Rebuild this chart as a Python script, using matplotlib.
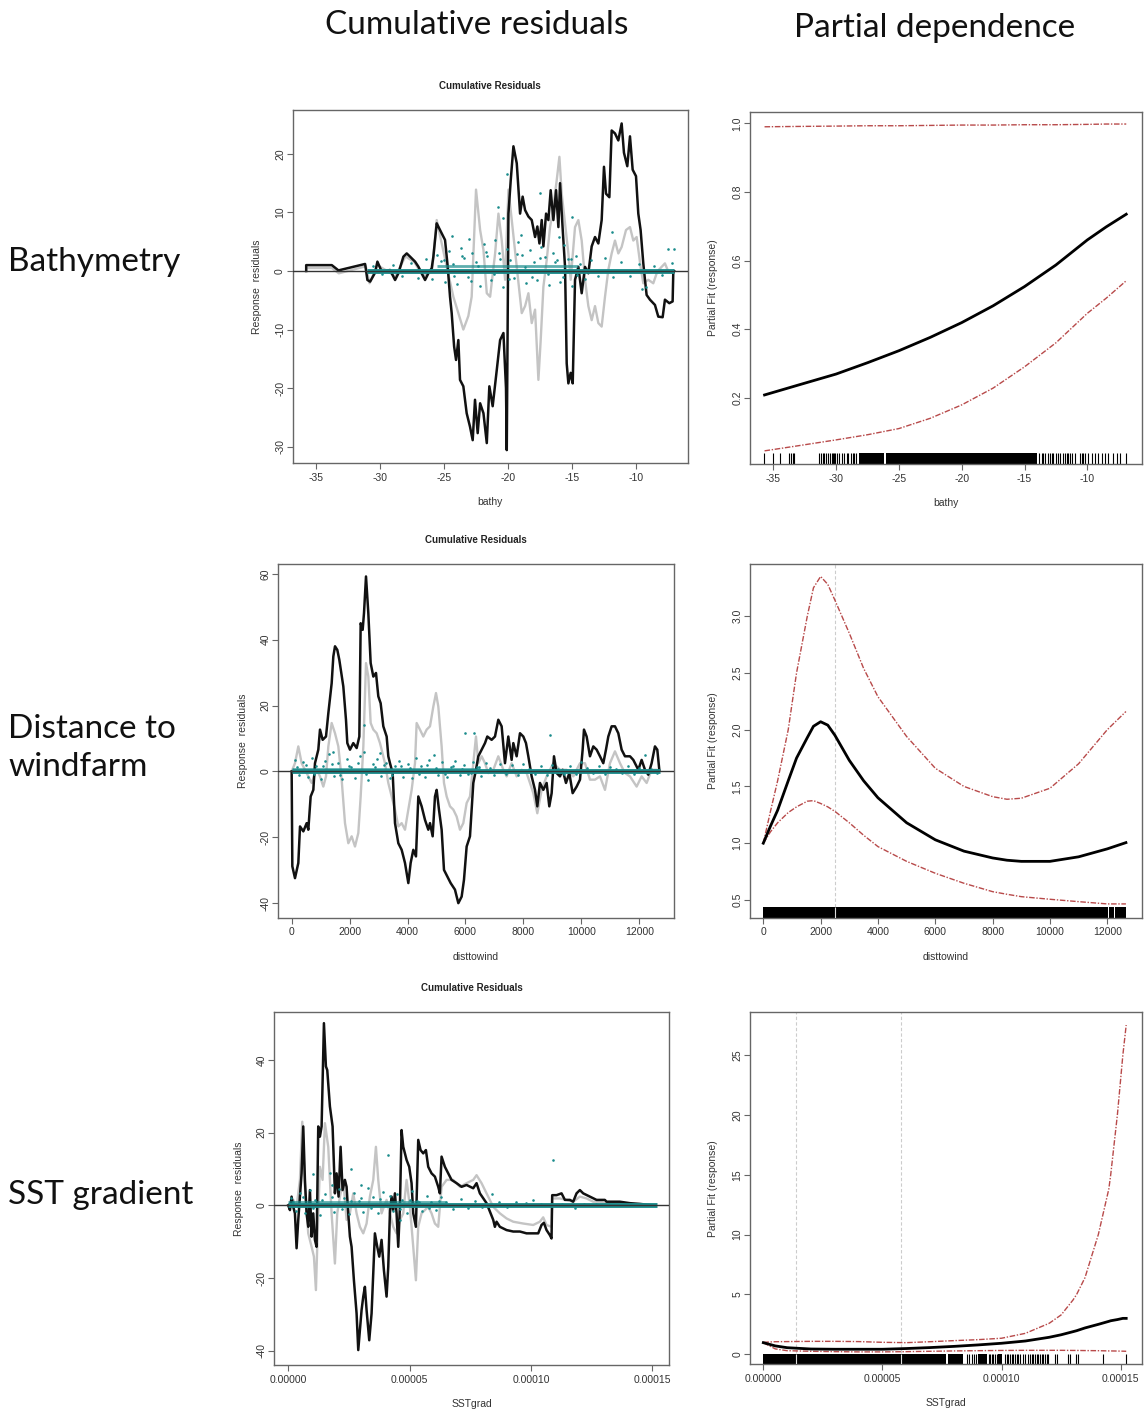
import numpy as np
import matplotlib
matplotlib.use('Agg')
import matplotlib.pyplot as plt

# ---- headers / labels
col_titles = ['Cumulative residuals', 'Partial dependence']
row_titles = ['Bathymetry', 'Distance to\nwindfarm', 'SST gradient']
x_names = ['bathy', 'disttowind', 'SSTgrad']

# ---- row 1: bathy
bathy_black_x = [-35.75, -35.75, -33.75, -33.23, -31.15, -30.97, -30.76, -30.37, -30.19, -29.85, -29.2, -28.81,
                 -28.55, -28.16, -27.9, -27.64, -27.25, -26.99, -26.73, -26.47, -26.21, -25.95, -25.82, -25.56,
                 -25.43, -25.17, -24.91, -24.7, -24.52, -24.39, -24.2, -24.05, -23.87, -23.74, -23.48, -23.22,
                 -22.96, -22.75, -22.57, -22.36, -22.17, -21.91, -21.65, -21.45, -21.19, -20.87, -20.61, -20.35,
                 -20.15, -20.09, -19.96, -19.78, -19.57, -19.31, -19.05, -18.85, -18.66, -18.4, -18.14, -17.88,
                 -17.7, -17.54, -17.36, -17.23, -17.02, -16.84, -16.66, -16.45, -16.24, -16.06, -15.93, -15.72,
                 -15.54, -15.41, -15.28, -15.1, -14.94, -14.76, -14.5, -14.24, -13.98, -13.72, -13.46, -13.2,
                 -12.94, -12.68, -12.5, -12.34, -12.08, -11.9, -11.64, -11.38, -11.12, -10.94, -10.68, -10.47,
                 -10.26, -10.0, -9.82, -9.64, -9.43, -9.3, -9.17, -8.91, -8.52, -8.26, -7.92, -7.74, -7.4,
                 -7.14, -7.09, -7.03]
bathy_black_y = [0, 1.0, 1.0, 0.1, 1.2, -1.54, -1.82, -0.28, 1.6, -0.11, 0.17, -1.54,
                 -0.4, 2.45, 3.0, 2.45, 1.6, 0.74, -0.4, -1.54, -0.4, 0.46, 2.45, 8.14,
                 7.57, 6.43, 5.3, 0.74, -4.4, -7.2, -12.9, -15.2, -11.8, -18.6, -19.7, -24.3,
                 -26.6, -28.9, -22.0, -27.7, -22.6, -24.3, -29.4, -19.7, -23.1, -16.9, -11.8, -10.6,
                 -20.0, -30.6, 9.8, 15.5, 21.3, 18.4, 9.8, 12.7, 10.4, 9.3, 8.7, 5.8,
                 7.6, 4.7, 8.7, 4.2, 9.8, 8.7, 13.8, 8.7, 13.8, 7.5, 15.0, 7.0,
                 0.7, -15.8, -19.2, -17.4, -19.2, -1.5, 0.7, -3.8, 0.7, -0.4, 4.2, 5.8,
                 4.7, 8.7, 17.8, 13.2, 12.6, 24.0, 23.5, 22.3, 25.2, 20.2, 17.9, 23.0,
                 17.3, 16.2, 9.8, 7.0, 1.3, -1.5, -4.1, -4.9, -5.8, -7.8, -7.9, -4.9, -5.5,
                 -5.2, -0.4, 0]
bathy_gray_x = [-35.75, -35.75, -33.75, -33.2, -31.1, -30.8, -30.2, -29.2, -28.8, -28.0, -27.3, -26.6, -25.9,
                -25.56, -24.78, -24.26, -23.87, -23.48, -23.09, -22.83, -22.49, -22.17, -21.91, -21.65, -21.39,
                -21.0, -20.74, -20.48, -20.22, -19.96, -19.7, -19.31, -18.92, -18.66, -18.4, -18.14, -17.88,
                -17.62, -17.44, -17.23, -16.97, -16.71, -16.45, -16.19, -15.98, -15.8, -15.54, -15.28, -15.1,
                -14.76, -14.5, -14.24, -13.98, -13.72, -13.46, -13.2, -12.94, -12.68, -12.42, -12.16, -11.9,
                -11.64, -11.38, -11.12, -10.78, -10.47, -10.21, -9.95, -9.64, -9.43, -9.04, -8.65, -8.34,
                -8.0, -7.74, -7.48, -7.22]
bathy_gray_y = [0, 0.5, 0.5, -0.4, 0.8, -2.1, 1.0, -0.3, -1.0, 2.5, 1.5, -1.0, 0.5,
                8.7, 0.74, -4.4, -7.2, -10.0, -7.7, -4.4, 13.9, 7.0, 3.6, -3.8, -4.4,
                3.0, 9.8, 5.2, -1.5, 13.9, 8.7, 0.7, -7.2, -6.0, -3.8, -8.9, -6.6,
                -18.6, -11.8, -2.7, 1.9, 7.5, 11.0, 15.5, 19.5, 13.2, 8.1, 3.0, -1.5,
                7.5, 8.7, 5.2, -1.5, -6.0, -8.4, -6.0, -8.9, -9.5, -4.4, 0.2, 3.0,
                5.2, 3.0, 4.1, 7.0, 7.5, 5.2, 5.8, 0.7, -2.1, -1.5, -2.1, -0.1,
                0.7, 1.3, -0.1, 0]
bathy_res_x = [-30.5, -29.8, -29.0, -28.3, -27.6, -27.0, -26.4, -25.9, -25.5, -25.2, -24.9, -24.6, -24.3, -24.0,
               -23.7, -23.4, -23.1, -22.8, -22.5, -22.2, -21.9, -21.6, -21.3, -21.0, -20.7, -20.4, -20.1, -19.8,
               -19.5, -19.2, -18.9, -18.6, -18.3, -18.0, -17.7, -17.4, -17.1, -16.8, -16.5, -16.2, -15.9, -15.6,
               -15.3, -15.0, -14.7, -14.4, -14.0, -13.5, -13.0, -12.4, -11.8, -11.2, -10.5, -9.8, -9.2, -8.6,
               -8.0, -7.5, -7.2, -20.1, -20.8, -20.4, -15.0, -24.4, -17.5, -11.9, -7.0, -9.5, -23.0, -19.0, -16.0,
               -25.0, -24.2, -23.6, -22.9, -22.3, -21.7, -21.1, -20.6, -19.9, -19.3, -18.7, -18.1, -17.5, -16.9,
               -16.3, -15.7, -15.1, -14.6]
bathy_res_y = [0.8, -0.6, 1.1, -0.9, 1.4, -1.2, 2.1, -1.4, 2.8, 1.7, -1.8, 3.4, 1.2, -2.2,
               4.0, 2.2, -1.0, 3.0, 1.6, -2.6, 4.6, 2.5, -1.6, 5.3, 3.1, -2.8, 3.8, 1.9,
               -1.2, 5.0, 2.7, -2.0, 3.5, 1.5, -1.5, 4.1, 2.4, -2.4, 3.0, 1.8, -1.9, 4.4,
               2.0, -2.6, 2.6, 1.2, -1.3, 1.8, -0.9, 2.2, -1.1, 1.5, -0.8, 1.2, -2.7, 0.9,
               -0.7, 3.8, 1.3, 16.6, 10.9, 9.0, 9.3, 6.0, 13.3, 6.6, 3.8, -3.0, 5.5, 6.2, 5.8,
               1.9, -0.8, 2.6, -1.7, 0.9, 3.3, -0.6, 2.0, -1.3, 2.9, 0.7, -1.0, 2.3, -0.5,
               1.6, -1.1, 2.1, -0.7]
bathy_band = [-31.0, -7.0]
bathy_band2 = [-25.5, -14.5]

bathy_pd_x = [-35.7, -33.0, -30.0, -27.5, -25.0, -22.5, -20.0, -17.5, -15.0, -12.5, -10.0, -8.5, -6.9]
bathy_pd_fit = [0.208, 0.237, 0.269, 0.302, 0.337, 0.376, 0.419, 0.468, 0.524, 0.587, 0.660, 0.698, 0.735]
bathy_pd_lo = [0.045, 0.06, 0.077, 0.092, 0.11, 0.14, 0.179, 0.228, 0.29, 0.36, 0.446, 0.49, 0.541]
bathy_pd_hi = [0.990, 0.991, 0.992, 0.993, 0.993, 0.994, 0.995, 0.995, 0.996, 0.996, 0.997, 0.998, 0.998]
bathy_rug_blocks = [(-28.15, -26.15), (-26.05, -13.98)]
bathy_rug = [-35.72, -35.0, -34.47, -33.75, -33.62, -33.46, -33.35, -31.34, -31.23, -31.07, -30.94, -30.81,
             -30.67, -30.49, -30.36, -30.28, -30.2, -30.12, -29.96, -29.75, -29.56, -29.37, -29.16, -29.03,
             -28.84, -28.68, -28.58, -28.42, -13.82, -13.64, -13.5, -13.34, -13.16, -12.97, -12.84, -12.71,
             -12.5, -12.31, -12.18, -11.96, -11.78, -11.65, -11.51, -11.38, -11.25, -10.98, -10.58, -10.45,
             -10.32, -10.19, -9.92, -9.66, -9.39, -9.12, -8.86, -8.59, -8.33, -7.93, -7.66, -7.4, -6.92]
bathy_vlines = []

# ---- row 2: distance to windfarm
dist_black_x = [0, 23, 115, 230, 288, 403, 518, 575, 656, 748, 805, 920, 978, 1070, 1185, 1266, 1381, 1438,
                1496, 1576, 1645, 1783, 1875, 1921, 2013, 2128, 2244, 2336, 2382, 2451, 2497, 2566, 2646,
                2727, 2819, 2911, 2991, 3072, 3164, 3279, 3336, 3394, 3486, 3567, 3682, 3797, 3912, 4027,
                4107, 4199, 4291, 4372, 4487, 4602, 4717, 4775, 4867, 4947, 5005, 5085, 5177, 5258, 5373,
                5488, 5637, 5753, 5868, 5948, 6040, 6155, 6270, 6362, 6443, 6558, 6673, 6753, 6903, 7018,
                7133, 7248, 7363, 7478, 7593, 7651, 7766, 7881, 7996, 8088, 8169, 8284, 8399, 8479, 8571,
                8686, 8801, 8893, 8974, 9055, 9146, 9262, 9354, 9469, 9584, 9699, 9837, 9952, 10044, 10090,
                10182, 10297, 10412, 10527, 10642, 10757, 10849, 10930, 11045, 11160, 11275, 11390, 11505,
                11678, 11793, 11965, 12080, 12195, 12310, 12425, 12540, 12621, 12690]
dist_black_y = [0, -28.8, -32.4, -27.8, -16.7, -18.2, -15.7, -17.7, -7.6, -5.6, 2.5, 6.6, 12.7, 9.6, 10.6, 17.7,
                26.8, 34.9, 38.0, 36.9, 33.9, 25.8, 15.7, 8.6, 6.6, 8.6, 7.1, 10.6, 45.0, 43.0, 48.1, 59.2,
                48.1, 32.9, 28.8, 29.9, 22.8, 20.7, 13.7, 10.6, 4.6, 2.5, -0.5, -15.7, -21.8, -23.8, -27.8,
                -33.9, -27.8, -23.8, -25.8, -7.6, -10.6, -14.7, -17.7, -15.7, -19.7, -7.6, -5.6, -11.6,
                -17.7, -29.9, -31.9, -33.9, -35.9, -40.0, -38.0, -32.9, -22.8, -19.7, -3.5, 0.5, 4.6, 6.6,
                8.6, 10.6, 9.6, 10.6, 15.7, 13.7, 2.5, 10.6, 3.5, 8.6, 4.6, 11.6, 10.6, 8.6, 4.6, -1.5,
                -5.6, -10.6, -3.5, -5.6, -3.5, -10.6, -6.6, 4.6, -0.5, -1.5, 0.5, -3.5, -0.5, -6.6, -4.6,
                -2.5, 6.6, 12.7, 10.6, 4.6, 7.6, 6.6, 4.6, 2.5, 6.6, 10.6, 13.7, 13.7, 11.6, 6.6, 4.6,
                4.6, 3.5, 0.5, 3.5, 0.5, -1.0, 2.5, 7.6, 6.6, 0.5]
dist_gray_x = [0, 115, 230, 345, 460, 575, 690, 863, 978, 1093, 1185, 1266, 1381, 1496, 1611, 1726, 1841,
               1956, 2071, 2186, 2301, 2382, 2474, 2566, 2646, 2727, 2819, 2934, 3049, 3221, 3336, 3452,
               3567, 3682, 3797, 3912, 4027, 4142, 4257, 4314, 4429, 4544, 4660, 4775, 4890, 4982, 5062,
               5177, 5258, 5350, 5465, 5580, 5695, 5810, 5925, 6040, 6155, 6270, 6362, 6443, 6558, 6673,
               6788, 6961, 7133, 7306, 7421, 7593, 7766, 7938, 8111, 8226, 8341, 8479, 8629, 8801, 9031,
               9262, 9492, 9722, 9952, 10124, 10297, 10470, 10642, 10815, 10987, 11160, 11333, 11505,
               11678, 11908, 12080, 12253, 12425, 12598, 12690]
dist_gray_y = [0, 2.5, 7.6, 2.5, 0.5, -1.5, -3.5, 0.5, -1.5, -4.6, -1.5, 7.6, 14.7, 11.6, 7.6, -2.5, -15.7,
               -21.8, -19.7, -22.8, -18.7, -7.6, 7.6, 32.9, 28.8, 14.7, 12.7, 11.6, 8.6, 2.5, -3.5, -7.6,
               -11.6, -16.7, -15.7, -17.7, -11.6, -5.6, 2.5, 14.7, 12.7, 10.6, 12.7, 13.7, 19.7, 23.8, 19.7,
               7.6, -3.5, -7.6, -10.6, -11.6, -13.7, -17.7, -15.7, -9.6, -7.6, 2.5, 10.6, 2.5, 4.6, 2.5,
               -0.5, 0.5, 4.6, 0.5, -1.5, 2.5, -1.5, 0.5, -0.5, -3.5, -6.6, -12.7, -5.6, -1.5, 2.5,
               0.5, 0.5, -1.5, 2.5, 2.5, -2.5, -2.5, -1.5, -5.6, 2.5, 6.1, 2.5, -0.5,
               -1.5, -4.6, -1.5, -3.5, 0.5, 0.5, 0]
dist_res_x = [100, 250, 400, 550, 700, 850, 1000, 1150, 1300, 1450, 1600, 1750, 1900, 2050, 2200, 2350, 2500,
              2650, 2800, 2950, 3100, 3250, 3400, 3550, 3700, 3850, 4000, 4150, 4300, 4450, 4600, 4750, 4900,
              5050, 5200, 5350, 5500, 5650, 5800, 5950, 6100, 6250, 6400, 6550, 6700, 6850, 7000, 7200, 7400,
              7600, 7800, 8000, 8200, 8400, 8600, 8800, 9000, 9200, 9400, 9600, 9800, 10000, 10200, 10400,
              10600, 10800, 11000, 11200, 11400, 11600, 11800, 12000, 12200, 12400, 12600,
              2480, 5980, 8930, 3050, 6300, 1420,
              180, 480, 780, 1080, 1380, 1680, 1980, 2280, 2580, 2880, 3180, 3480, 3780, 4080, 4380, 4680,
              4980, 5280, 5580, 5880, 6180, 6480]
dist_res_y = [3.5, -1.2, 2.8, -1.8, 4.0, 1.6, -2.2, 3.2, 5.2, -1.5, 2.5, -2.4, 3.8, 1.2, -2.0, 4.6, 5.8,
              -2.6, 2.2, 3.9, -1.4, 2.7, -2.0, 1.8, 3.2, -1.6, 2.4, -2.1, 4.1, 1.7, -1.8, 3.6, 5.0,
              -1.1, 2.9, -1.7, 1.4, 3.3, -1.2, 2.0, -0.9, 3.0, 1.2, -1.4, 2.6, 0.9, -1.0, 2.2, -0.8,
              1.9, -1.1, 2.4, 0.8, -0.9, 1.5, -1.2, 2.0, 0.6, -0.8, 1.7, -0.7, 2.8, 0.9, -0.6,
              1.8, -0.9, 1.2, 0.7, -0.6, 1.5, -0.8, 1.0, 5.0, 0.8, -0.5,
              14.0, 11.6, 11.1, 5.5, 11.8, 6.0,
              1.2, 2.0, -0.9, 1.5, 2.2, -1.0, 1.7, 2.5, -0.8, 1.3, 2.1, -1.2, 1.6, 0.9, -0.7, 2.0,
              1.1, -0.9, 1.8, 0.8, -0.6, 1.4]
dist_band = [0, 12700]
dist_band2 = [0, 6500]

dist_pd_x = [0, 250, 500, 870, 1160, 1535, 1750, 2000, 2250, 2500, 3000, 3500, 4000, 5000, 6000, 7000, 8000,
             8500, 9000, 10000, 11000, 12000, 12650]
dist_pd_fit = [1.0, 1.15, 1.29, 1.55, 1.75, 1.93, 2.03, 2.07, 2.04, 1.95, 1.73, 1.55, 1.40, 1.18, 1.03, 0.93,
               0.87, 0.85, 0.84, 0.84, 0.88, 0.95, 1.005]
dist_pd_lo = [1.0, 1.10, 1.18, 1.27, 1.32, 1.37, 1.375, 1.35, 1.32, 1.28, 1.18, 1.07, 0.97, 0.84, 0.735,
              0.647, 0.573, 0.55, 0.529, 0.506, 0.485, 0.465, 0.465]
dist_pd_hi = [1.0, 1.28, 1.55, 2.0, 2.5, 3.0, 3.25, 3.35, 3.28, 3.14, 2.85, 2.54, 2.29, 1.94, 1.66, 1.50,
              1.41, 1.387, 1.396, 1.484, 1.70, 2.0, 2.16]
dist_rug_blocks = [(0, 12030), (12070, 12230), (12260, 12650)]
dist_rug = []
dist_vlines = [2500]

# ---- row 3: SST gradient (x in units of 1e-5)
sst_black_x = np.array([0, 0.069, 0.137, 0.206, 0.275, 0.343, 0.412, 0.481, 0.549, 0.618, 0.687, 0.755, 0.824,
                        0.893, 0.962, 1.030, 1.099, 1.168, 1.236, 1.305, 1.374, 1.470, 1.552, 1.607, 1.717, 1.827,
                        1.923, 1.992, 2.074, 2.157, 2.239, 2.335, 2.404, 2.472, 2.541, 2.610, 2.706, 2.816, 2.885,
                        2.953, 3.022, 3.091, 3.159, 3.228, 3.338, 3.434, 3.503, 3.571, 3.668, 3.750, 3.846, 3.942,
                        4.052, 4.121, 4.189, 4.258, 4.327, 4.396, 4.464, 4.533, 4.602, 4.670, 4.739, 4.808, 4.876,
                        4.986, 5.082, 5.151, 5.261, 5.316, 5.357, 5.453, 5.563, 5.673, 5.769, 5.906, 6.044, 6.181,
                        6.250, 6.319, 6.456, 6.593, 6.731, 6.937, 7.143, 7.349, 7.623, 7.761, 7.898, 8.173, 8.448,
                        8.516, 8.585, 8.722, 8.997, 9.272, 9.547, 9.821, 10.096, 10.302, 10.439, 10.536, 10.645,
                        10.783, 10.851, 10.879, 11.057, 11.264, 11.401, 11.607, 11.744, 11.882, 12.019, 12.156,
                        12.431, 12.706, 13.049, 13.118, 13.393, 13.668, 14.080, 14.492, 15.041]) * 1e-5
sst_black_y = [0, -1.3, 2.4, -0.4, -2.2, -11.8, -4.0, 2.4, 8.8, 21.7, 7.0, -2.2, -5.9,
               4.2, -8.6, -2.2, -9.5, -11.4, 21.7, 18.9, 21.7, 50.1, 38.2, 37.2, 27.2, 21.7,
               3.3, 8.8, 2.4, 16.1, 4.2, 7.0, 5.1, -2.2, -8.6, -11.4, -20.6, -29.7, -39.8,
               -34.3, -28.8, -25.1, -22.4, -28.8, -37.1, -29.7, -18.7, -7.7, -11.4, -14.1, -9.5, -17.8,
               -25.1, -16.9, -2.2, 2.4, -1.3, 3.3, -2.2, -11.4, -0.4, 20.7, 16.1, 14.3, 12.5,
               10.6, 6.1, -2.2, -5.9, 7.9, 18.0, 15.2, 14.3, 15.2, 10.6, 8.8, 7.9, 5.1,
               3.3, 13.4, 10.6, 8.8, 7.0, 6.1, 5.1, 5.6, 4.7, 6.1, 3.3, 0.6, -4.0,
               -5.9, -4.5, -5.9, -6.8, -7.2, -7.2, -7.7, -7.7, -7.7, -5.4, -4.8, -6.8,
               -8.2, -9.1, 2.8, 2.8, 3.3, 1.5, 1.5, 1.0, 3.3, 4.2, 3.3,
               2.4, 1.5, 1.5, 1.0, 1.0, 1.0, 0.6, 0.4, 0]
sst_gray_x = np.array([0, 0.206, 0.343, 0.481, 0.577, 0.687, 0.824, 0.962, 1.058, 1.140, 1.236, 1.305, 1.415,
                       1.511, 1.648, 1.786, 1.923, 2.019, 2.129, 2.266, 2.404, 2.541, 2.679, 2.816, 2.953, 3.091,
                       3.228, 3.365, 3.503, 3.613, 3.709, 3.846, 3.942, 4.052, 4.189, 4.327, 4.464, 4.602, 4.739,
                       4.876, 5.014, 5.151, 5.261, 5.357, 5.494, 5.632, 5.769, 5.906, 6.044, 6.181, 6.319, 6.525,
                       6.799, 7.074, 7.349, 7.623, 7.761, 7.967, 8.173, 8.448, 8.722, 8.997, 9.272, 9.684,
                       10.096, 10.371, 10.508, 10.645, 10.851, 10.879, 11.195, 11.470, 11.744, 12.019, 12.294,
                       12.569, 12.843, 13.118, 13.668, 14.492, 15.041]) * 1e-5
sst_gray_y = [0, 1.5, -0.4, 7.0, 23.0, 5.1, -7.7, -11.4, -14.1, -23.3, -2.2, 10.6, 7.0,
              22.6, 16.1, -2.2, -16.0, -2.2, 2.4, 7.0, -4.0, -2.2, 3.3, -2.2, -5.9, -7.7,
              -5.0, 2.4, 7.0, 16.1, 7.0, -2.2, -0.4, 1.5, -2.2, -5.9, -7.7, -4.0, -2.2,
              7.0, -0.4, -11.4, -20.6, -5.9, -2.2, -1.3, -0.4, -2.2, -5.0, -5.9, 5.1, 7.0,
              7.0, 5.1, 6.1, 7.0, 8.3, 6.1, 3.3, -0.4, -2.2, -3.6, -4.5, -5.0,
              -5.4, -4.5, -3.3, -5.4, -5.9, 1.9, 1.9, 1.5, 1.0, 2.4, 1.9,
              1.0, 1.0, 0.6, 0.4, 0.1, 0]
sst_res_x = np.array([0.1, 0.3, 0.5, 0.7, 0.9, 1.1, 1.3, 1.5, 1.7, 1.9, 2.1, 2.3, 2.5, 2.7, 2.9, 3.1, 3.3, 3.5,
                      3.7, 3.9, 4.1, 4.3, 4.5, 4.7, 4.9, 5.1, 5.3, 5.5, 5.7, 5.9, 6.1, 6.3, 6.5, 6.8, 7.1, 7.4,
                      7.7, 8.0, 8.4, 8.7, 9.0, 9.4, 9.8, 10.1, 10.4, 10.9, 11.3, 11.8, 12.2, 12.7, 13.2, 14.0,
                      15.0, 3.0, 1.0, 2.6, 4.6, 1.8,
                      0.2, 0.6, 1.0, 1.4, 1.8, 2.2, 2.6, 3.0, 3.4, 3.8, 4.2, 4.6, 5.0, 5.4, 5.8, 6.2]) * 1e-5
sst_res_y = [2.0, -1.5, 3.5, -2.2, 4.2, 1.4, -2.6, 3.0, 9.0, -1.8, 4.6, 2.0, -2.4, 3.5, 1.1, -1.9, 4.8, 2.3,
             -2.0, 3.6, 13.9, -1.5, 3.1, 1.6, -2.1, 4.0, 1.2, -1.6, 2.6, 0.9, -1.3, 2.4, 1.0, -0.9, 1.8, -0.7,
             1.3, -0.5, 3.0, 0.8, -0.5, 1.0, 0.6, 1.4, 0.5, 12.5, 0.5, -0.6, 0.3, 0.5, 0.3, 0.2,
             0.1, 5.5, 8.5, 10.0, -4.0, 5.5,
             1.0, 2.2, -0.8, 1.6, 2.4, -1.0, 1.3, 2.0, -0.7, 1.8, 2.6, -0.9, 1.5, 0.8, -0.6, 1.2]
sst_band = [0, 15.2e-5]
sst_band2 = [0, 6.5e-5]

sst_pd_x = np.array([0, 0.5, 1.0, 2.0, 3.0, 4.0, 5.0, 6.0, 7.0, 8.0, 9.0, 10.0, 11.0, 12.0, 12.5, 13.0, 13.15,
                     13.5, 14.06, 14.5, 14.58, 14.86, 15.09, 15.23]) * 1e-5
sst_pd_fit = [0.97, 0.7, 0.55, 0.44, 0.42, 0.42, 0.42, 0.48, 0.56, 0.66, 0.78, 0.92, 1.11, 1.42, 1.63, 1.89,
              1.97, 2.2, 2.5, 2.75, 2.8, 2.9, 3.0, 3.0]
sst_pd_hi = [1.0, 1.05, 1.06, 1.08, 1.08, 1.06, 1.0, 0.97, 1.05, 1.14, 1.22, 1.34, 1.75, 2.59, 3.29, 4.54,
             5.0, 6.4, 10.0, 13.8, 15.0, 20.0, 25.0, 27.5]
sst_pd_lo = [0.97, 0.45, 0.3, 0.25, 0.22, 0.2, 0.2, 0.22, 0.25, 0.28, 0.3, 0.32, 0.33, 0.33, 0.33, 0.32,
             0.32, 0.31, 0.3, 0.28, 0.28, 0.27, 0.26, 0.25]
sst_rug_blocks = [(0, 7.67e-5), (7.77e-5, 8.40e-5), (9.03e-5, 9.38e-5), (9.87e-5, 10.006e-5)]
sst_rug = list(np.array([8.54, 8.65, 8.75, 8.84, 8.93, 9.46, 9.52, 9.59, 9.66, 9.73, 9.80, 10.146, 10.216,
                         10.286, 10.356, 10.426, 10.496, 10.566, 10.636, 10.706, 10.776, 10.887, 10.985, 11.125,
                         11.195, 11.265, 11.335, 11.405, 11.475, 11.545, 11.615, 11.685, 11.755, 11.825, 11.895,
                         11.965, 12.245, 12.343, 12.805, 12.874, 13.126, 13.224, 14.246, 15.225]) * 1e-5)
sst_vlines = [1.385e-5, 5.77e-5]

# ---- axis setup per panel
left_pos = [[0.255, 0.6721, 0.3443, 0.250], [0.2424, 0.3501, 0.3447, 0.2505], [0.2389, 0.0333, 0.3438, 0.2498]]
right_pos = [[0.6533, 0.6714, 0.3412, 0.2495], [0.6533, 0.3501, 0.3412, 0.2505], [0.6533, 0.0338, 0.3412, 0.2493]]
left_xlim = [(-36.8, -5.94), (-462, 13197), (-5.77e-6, 1.569e-4)]
left_ylim = [(-32.8, 27.5), (-44.4, 63.0), (-43.9, 53.1)]
right_xlim = [(-36.86, -5.67), (-464, 13200), (-5.6e-6, 1.588e-4)]
right_ylim = [(0.0067, 1.034), (0.344, 3.46), (-0.835, 28.57)]
x_ticks = [[-35, -30, -25, -20, -15, -10], [0, 2000, 4000, 6000, 8000, 10000, 12000],
           [0, 5e-5, 1e-4, 1.5e-4]]
x_ticklabels = [['-35', '-30', '-25', '-20', '-15', '-10'],
                ['0', '2000', '4000', '6000', '8000', '10000', '12000'],
                ['0.00000', '0.00005', '0.00010', '0.00015']]
left_yticks = [[-30, -20, -10, 0, 10, 20], [-40, -20, 0, 20, 40, 60], [-40, -20, 0, 20, 40]]
right_yticks = [[0.2, 0.4, 0.6, 0.8, 1.0], [0.5, 1.0, 1.5, 2.0, 2.5, 3.0], [0, 5, 10, 15, 20, 25]]
right_yticklabels = [['0.2', '0.4', '0.6', '0.8', '1.0'], ['0.5', '1.0', '1.5', '2.0', '2.5', '3.0'],
                     ['0', '5', '10', '15', '20', '25']]

cum_data = [
    (bathy_black_x, bathy_black_y, bathy_gray_x, bathy_gray_y, bathy_res_x, bathy_res_y, bathy_band, bathy_band2),
    (dist_black_x, dist_black_y, dist_gray_x, dist_gray_y, dist_res_x, dist_res_y, dist_band, dist_band2),
    (sst_black_x, sst_black_y, sst_gray_x, sst_gray_y, sst_res_x, sst_res_y, sst_band, sst_band2),
]
pd_data = [
    (bathy_pd_x, bathy_pd_fit, bathy_pd_lo, bathy_pd_hi, bathy_rug_blocks, bathy_rug, bathy_vlines),
    (dist_pd_x, dist_pd_fit, dist_pd_lo, dist_pd_hi, dist_rug_blocks, dist_rug, dist_vlines),
    (sst_pd_x, sst_pd_fit, sst_pd_lo, sst_pd_hi, sst_rug_blocks, sst_rug, sst_vlines),
]

TEAL = '#1a8c8c'
RED = '#b84a4a'
TXT = '#333333'
FRAME = '#666666'

fig = plt.figure(figsize=(11.48, 14.12), dpi=100)


def style_axis(ax, xt, xtl, yt, ytl, xlabel, ylabel):
    ax.set_xticks(xt)
    ax.set_xticklabels(xtl)
    ax.set_yticks(yt)
    ax.set_yticklabels(ytl, rotation=90, va='center')
    ax.tick_params(axis='both', length=4, width=0.8, color=FRAME, labelsize=7.5, labelcolor=TXT,
                   labelfontfamily='Liberation Sans')
    ax.tick_params(axis='x', pad=3)
    ax.tick_params(axis='y', pad=1.5)
    for s in ax.spines.values():
        s.set_color(FRAME)
        s.set_linewidth(1.0)
    ax.text(0.5, -0.11, xlabel, transform=ax.transAxes, ha='center', va='center',
            fontsize=7.5, color=TXT, family='Liberation Sans')
    ax.text(ylabel[1], 0.5, ylabel[0], transform=ax.transAxes, ha='center', va='center', rotation=90,
            fontsize=7.5, color=TXT, family='Liberation Sans')


for i in range(3):
    bx, by, gx, gy, rx, ry, band, band2 = cum_data[i]
    ax = fig.add_axes(left_pos[i])
    ax.plot(gx, gy, color='#c4c4c4', lw=1.7, zorder=2)
    ax.plot(bx, by, color='#111111', lw=1.8, zorder=3)
    ax.plot(band, [0, 0], color=TEAL, lw=3.5, zorder=4, solid_capstyle='butt')
    ax.plot(band2, [0.8, 0.8], color=TEAL, lw=2.0, zorder=4, alpha=0.7, solid_capstyle='butt')
    ax.scatter(rx, ry, s=3.5, color=TEAL, lw=0, zorder=4)
    ax.axhline(0, color='#333333', lw=1.0, zorder=5)
    ax.set_xlim(*left_xlim[i])
    ax.set_ylim(*left_ylim[i])
    style_axis(ax, x_ticks[i], x_ticklabels[i], left_yticks[i], [str(v) for v in left_yticks[i]],
               x_names[i], ('Response  residuals', -0.09))
    ax.set_title('Cumulative Residuals', fontsize=7, fontweight='bold', color='#222222',
                 family='Liberation Sans', pad=15)

    px, fit, lo, hi, blocks, rug, vl = pd_data[i]
    ax = fig.add_axes(right_pos[i])
    for v in vl:
        ax.axvline(v, color='#cccccc', lw=0.8, ls=(0, (3, 2)), zorder=1)
    ax.plot(px, hi, color=RED, lw=1.0, ls=(0, (4, 1.2, 1, 1.2)), zorder=2)
    ax.plot(px, lo, color=RED, lw=1.0, ls=(0, (4, 1.2, 1, 1.2)), zorder=2)
    ax.plot(px, fit, color='black', lw=2.0, zorder=3)
    for a, b in blocks:
        ax.axvspan(a, b, ymin=0, ymax=0.03, color='black', lw=0, zorder=2)
    if rug:
        ax.vlines(rug, 0, 0.03, transform=ax.get_xaxis_transform(), color='black', lw=0.8, zorder=2)
    for v in vl:
        ax.vlines([v], 0, 0.03, transform=ax.get_xaxis_transform(), color='#dddddd', lw=0.8, zorder=3)
    ax.set_xlim(*right_xlim[i])
    ax.set_ylim(*right_ylim[i])
    style_axis(ax, x_ticks[i], x_ticklabels[i], right_yticks[i], right_yticklabels[i],
               x_names[i], ('Partial Fit (response)', -0.094))

# column and row headings
fig.text(477 / 1148, 1 - 25 / 1412, col_titles[0], ha='center', va='center', fontsize=24,
         family='Lato', color='#111111')
fig.text(935 / 1148, 1 - 28 / 1412, col_titles[1], ha='center', va='center', fontsize=24,
         family='Lato', color='#111111')
row_y = [262, 748, 1195]
for lab, yy in zip(row_titles, row_y):
    fig.text(8 / 1148, 1 - yy / 1412, lab, ha='left', va='center', fontsize=24, family='Lato',
             color='#111111', linespacing=1.3)

fig.savefig('out.png', dpi=100)
